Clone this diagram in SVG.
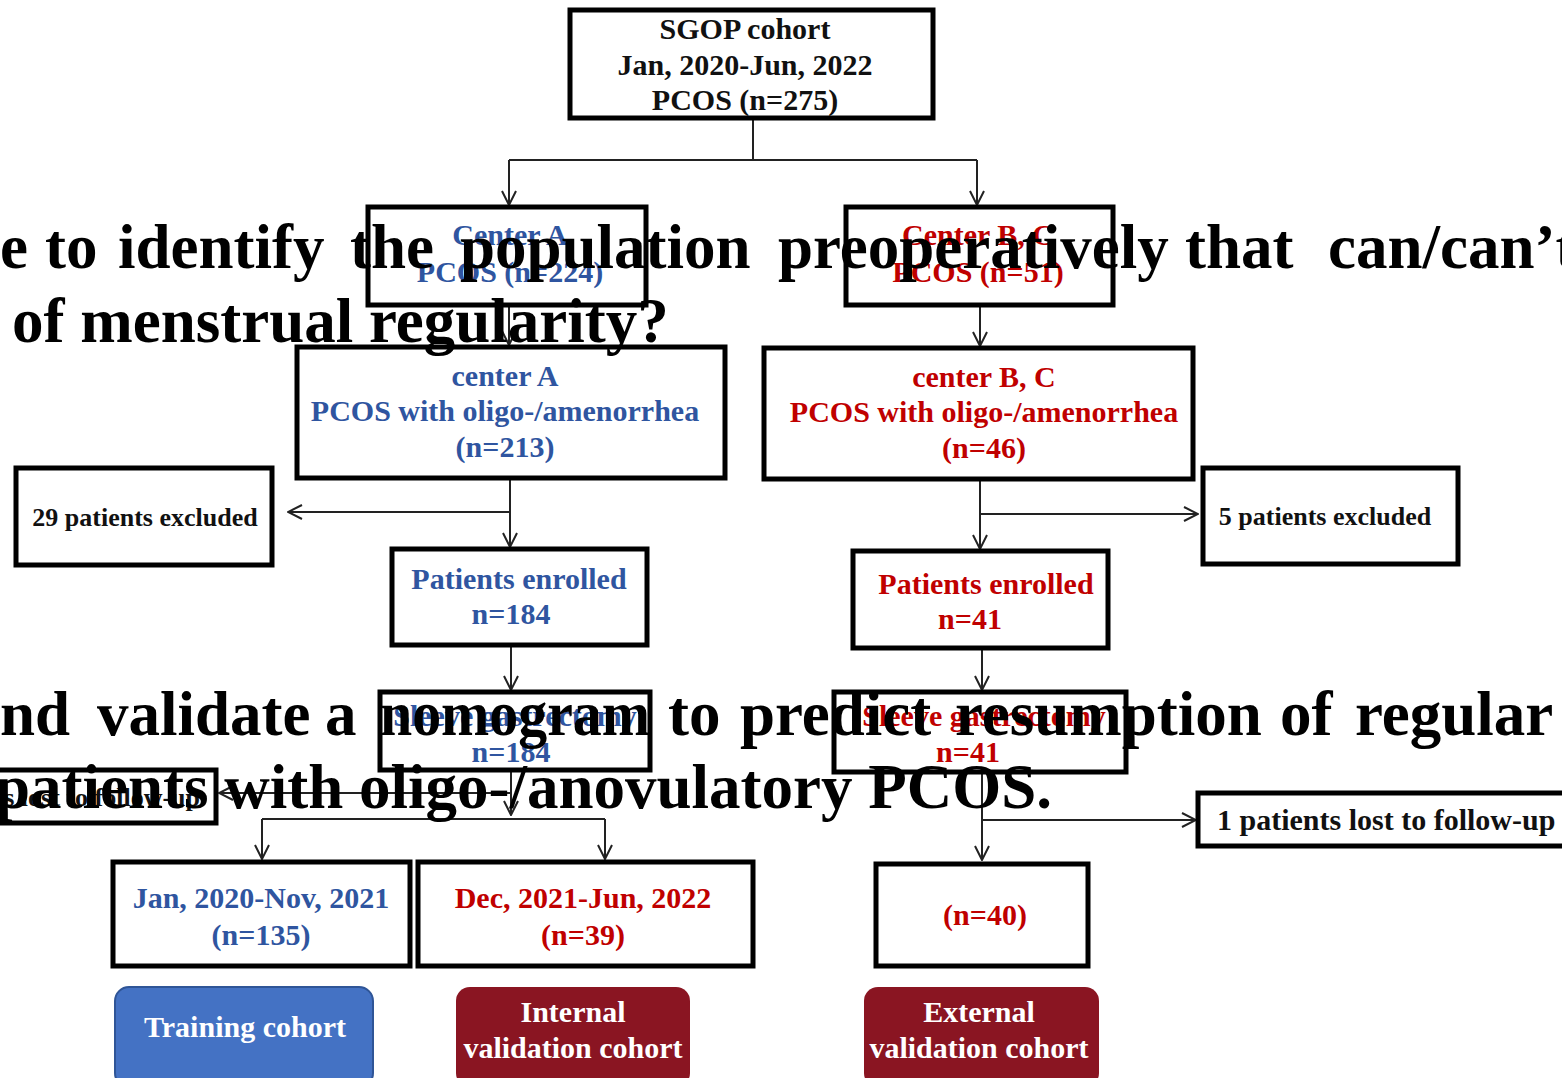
<svg xmlns="http://www.w3.org/2000/svg" width="1562" height="1078" viewBox="0 0 1562 1078">
<defs>
<marker id="arr" markerUnits="userSpaceOnUse" markerWidth="16" markerHeight="16" viewBox="0 0 16 16" refX="15" refY="8" orient="auto">
<path d="M1,1 L15,8 L1,15" fill="none" stroke="#222" stroke-width="2"/>
</marker>
<style>
.box{fill:#fff;stroke:#000;stroke-width:5}
.t{font-family:"Liberation Serif","Times New Roman",serif;font-weight:bold;font-size:30px;text-anchor:middle}
.k{fill:#111}
.b{fill:#2F55A0}
.r{fill:#C00000}
.w{fill:#fff}
.c{fill:none;stroke:#222;stroke-width:2}
.ca{fill:none;stroke:#222;stroke-width:2;marker-end:url(#arr)}
.big{font-family:"Liberation Serif","Times New Roman",serif;font-weight:bold;font-size:63px;fill:#000}
</style>
</defs>
<rect width="1562" height="1078" fill="#fff"/>

<g id="connectors">
<path class="c" d="M753,118 V160 M509,160 H977"/>
<path class="ca" d="M509,160 V205"/>
<path class="ca" d="M977,160 V205"/>
<path class="ca" d="M509,305 V345"/>
<path class="ca" d="M980,305 V346"/>
<path class="ca" d="M510,478 V547"/>
<path class="ca" d="M510,512 H288"/>
<path class="ca" d="M980,479 V549"/>
<path class="ca" d="M980,514 H1198"/>
<path class="ca" d="M511,645 V690"/>
<path class="ca" d="M982,648 V690"/>
<path class="ca" d="M511,770 V815"/>
<path class="ca" d="M511,793 H219"/>
<path class="c" d="M262,819 H605"/>
<path class="ca" d="M262,819 V859"/>
<path class="ca" d="M605,819 V859"/>
<path class="ca" d="M982,772 V860"/>
<path class="ca" d="M982,820 H1196"/>
</g>

<g id="sgop">
<rect class="box" x="570" y="10" width="363" height="108"/>
<text class="t k" x="745" y="39">SGOP cohort</text>
<text class="t k" x="745" y="75">Jan, 2020-Jun, 2022</text>
<text class="t k" x="745" y="110">PCOS (n=275)</text>
</g>

<g id="centerA">
<rect class="box" x="368" y="207" width="278" height="98"/>
<text class="t b" x="510" y="245">Center A</text>
<text class="t b" x="510" y="282">PCOS (n=224)</text>
</g>

<g id="centerBC">
<rect class="box" x="846" y="207" width="267" height="98"/>
<text class="t r" x="978" y="245">Center B, C</text>
<text class="t r" x="978" y="282">PCOS (n=51)</text>
</g>

<g id="centerA-oligo">
<rect class="box" x="297" y="347" width="428" height="131"/>
<text class="t b" x="505" y="386">center A</text>
<text class="t b" x="505" y="421">PCOS with oligo-/amenorrhea</text>
<text class="t b" x="505" y="457">(n=213)</text>
</g>

<g id="centerBC-oligo">
<rect class="box" x="764" y="348" width="429" height="131"/>
<text class="t r" x="984" y="387">center B, C</text>
<text class="t r" x="984" y="422">PCOS with oligo-/amenorrhea</text>
<text class="t r" x="984" y="458">(n=46)</text>
</g>

<g id="excluded29">
<rect class="box" x="16" y="468" width="256" height="97"/>
<text class="t k" x="145" y="526" style="font-size:26px">29 patients excluded</text>
</g>

<g id="excluded5">
<rect class="box" x="1203" y="468" width="255" height="96"/>
<text class="t k" x="1325" y="525" style="font-size:26px">5 patients excluded</text>
</g>

<g id="enrolledA">
<rect class="box" x="392" y="549" width="255" height="96"/>
<text class="t b" x="519" y="589">Patients enrolled</text>
<text class="t b" x="511" y="624">n=184</text>
</g>

<g id="enrolledBC">
<rect class="box" x="853" y="551" width="255" height="97"/>
<text class="t r" x="986" y="594">Patients enrolled</text>
<text class="t r" x="970" y="629">n=41</text>
</g>

<g id="sleeveA">
<rect class="box" x="380" y="692" width="270" height="78"/>
<text class="t b" x="515" y="726">Sleeve gastrectomy</text>
<text class="t b" x="511" y="762">n=184</text>
</g>

<g id="sleeveBC">
<rect class="box" x="834" y="692" width="292" height="80"/>
<text class="t r" x="984" y="726">Sleeve gastrectomy</text>
<text class="t r" x="968" y="762">n=41</text>
</g>

<g id="lostA">
<rect class="box" x="-10" y="770" width="226" height="53"/>
<text class="t k" x="200" y="806" style="font-size:26px;text-anchor:end">10 patients lost to follow-up</text>
</g>

<g id="lostBC">
<rect class="box" x="1198" y="793" width="370" height="53"/>
<text class="t k" x="1217" y="830" style="text-anchor:start">1 patients lost to follow-up</text>
</g>

<g id="training-period">
<rect class="box" x="113" y="862" width="297" height="104"/>
<text class="t b" x="261" y="908">Jan, 2020-Nov, 2021</text>
<text class="t b" x="261" y="945">(n=135)</text>
</g>

<g id="internal-period">
<rect class="box" x="418" y="862" width="335" height="104"/>
<text class="t r" x="583" y="908">Dec, 2021-Jun, 2022</text>
<text class="t r" x="583" y="945">(n=39)</text>
</g>

<g id="external-period">
<rect class="box" x="876" y="864" width="212" height="102"/>
<text class="t r" x="985" y="925">(n=40)</text>
</g>

<g id="training-cohort">
<rect x="115" y="987" width="258" height="100" rx="14" fill="#4472C4" stroke="#2F5597" stroke-width="2"/>
<text class="t w" x="245" y="1037">Training cohort</text>
</g>

<g id="internal-cohort">
<rect x="456" y="987" width="234" height="100" rx="14" fill="#8A1522"/>
<text class="t w" x="573" y="1022">Internal</text>
<text class="t w" x="573" y="1058">validation cohort</text>
</g>

<g id="external-cohort">
<rect x="864" y="987" width="235" height="100" rx="14" fill="#8A1522"/>
<text class="t w" x="979" y="1022">External</text>
<text class="t w" x="979" y="1058">validation cohort</text>
</g>

<g id="overlay-text">
<text class="big" y="268"><tspan x="0">e</tspan><tspan x="45">to</tspan><tspan x="118">identify</tspan><tspan x="350">the</tspan><tspan x="460">population</tspan><tspan x="778">preoperatively</tspan><tspan x="1185">that</tspan><tspan x="1328">can/can’t</tspan></text>
<text class="big" x="12" y="342">of menstrual regularity?</text>
<text class="big" y="735"><tspan x="0">nd</tspan><tspan x="97">validate</tspan><tspan x="325">a</tspan><tspan x="380" textLength="270" lengthAdjust="spacingAndGlyphs">nomogram</tspan><tspan x="668">to</tspan><tspan x="740">predict</tspan><tspan x="955">resumption</tspan><tspan x="1280">of</tspan><tspan x="1355">regular</tspan></text>
<text class="big" x="-5" y="808">patients with oligo-/anovulatory PCOS.</text>
</g>
</svg>
